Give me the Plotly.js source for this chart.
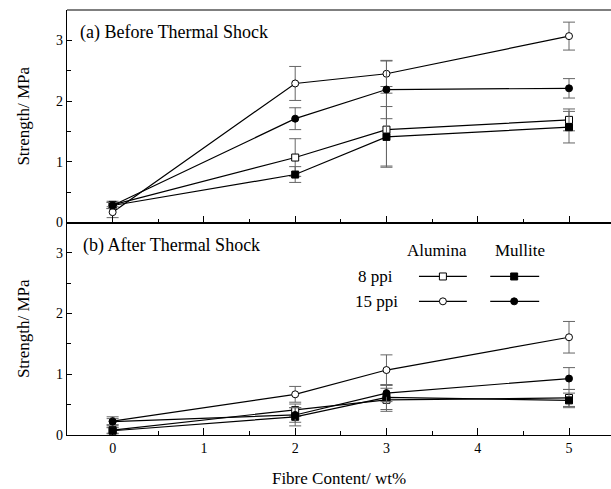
<!DOCTYPE html>
<html>
<head>
<meta charset="utf-8">
<script src="https://cdn.plot.ly/plotly-3.0.1.min.js"></script>
<style>html,body{margin:0;padding:0;background:#fff;overflow:hidden;}</style>
</head>
<body>
<div id="chart" style="width:611px;height:489px;"></div>
<script>
// Fibre content (wt%)
const fibre = [0, 2, 3, 5];

// (a) Before thermal shock
const beforeAlumina8 = [0.29, 1.07, 1.53, 1.69];
const beforeAlumina8Err = [0.06, 0.31, 0.60, 0.18];
const beforeMullite8 = [0.28, 0.79, 1.41, 1.57];
const beforeMullite8Err = [0.05, 0.13, 0.50, 0.26];
const beforeAlumina15 = [0.17, 2.29, 2.45, 3.07];
const beforeAlumina15Err = [0.09, 0.28, 0.21, 0.23];
const beforeMullite15 = [0.28, 1.71, 2.19, 2.21];
const beforeMullite15Err = [0.05, 0.18, 0.48, 0.16];

// (b) After thermal shock
const afterAlumina8 = [0.08, 0.41, 0.58, 0.61];
const afterAlumina8Err = [0.05, 0.10, 0.19, 0.14];
const afterMullite8 = [0.07, 0.30, 0.62, 0.57];
const afterMullite8Err = [0.05, 0.15, 0.20, 0.12];
const afterAlumina15 = [0.23, 0.67, 1.07, 1.61];
const afterAlumina15Err = [0.07, 0.13, 0.25, 0.26];
const afterMullite15 = [0.22, 0.33, 0.69, 0.93];
const afterMullite15Err = [0.05, 0.12, 0.14, 0.18];

const xTicks = [0, 1, 2, 3, 4, 5];
const yTicks = [0, 1, 2, 3];

// legend key text
const legendCols = ['Alumina', 'Mullite'];
const legendRows = ['8 ppi', '15 ppi'];

const FONT = 'Liberation Serif';
function txt(size) { return {family: FONT, size: size, color: '#000'}; }

function series(y, err, symbol, filled, xaxis, yaxis) {
  return {
    type: 'scatter', mode: 'lines+markers',
    x: fibre, y: y, xaxis: xaxis, yaxis: yaxis,
    line: {color: '#000', width: 1.2},
    marker: {symbol: symbol, size: 7, color: filled ? '#000' : '#fff',
             line: {color: '#000', width: 1}},
    error_y: {type: 'data', array: err, visible: true, color: '#666',
              thickness: 1, width: 6},
    showlegend: false, hoverinfo: 'skip', cliponaxis: false
  };
}

const traces = [
  series(beforeAlumina8, beforeAlumina8Err, 'square', false, 'x2', 'y'),
  series(beforeMullite8, beforeMullite8Err, 'square', true, 'x2', 'y'),
  series(beforeAlumina15, beforeAlumina15Err, 'circle', false, 'x2', 'y'),
  series(beforeMullite15, beforeMullite15Err, 'circle', true, 'x2', 'y'),
  series(afterAlumina8, afterAlumina8Err, 'square', false, 'x', 'y2'),
  series(afterMullite8, afterMullite8Err, 'square', true, 'x', 'y2'),
  series(afterAlumina15, afterAlumina15Err, 'circle', false, 'x', 'y2'),
  series(afterMullite15, afterMullite15Err, 'circle', true, 'x', 'y2')
];

// Custom legend key drawn on a 0..1 helper axis pair covering panel (b)
const keyX = [[0.647, 0.691, 0.735], [0.778, 0.822, 0.868]];
const keyY = [0.746, 0.629];
const keyHeadY = 0.869;
const keyColX = [0.681, 0.833];
const keyRowX = [0.603, 0.612];
const keySym = ['square', 'circle'];
for (let r = 0; r < 2; r++) {
  for (let c = 0; c < 2; c++) {
    const xs = keyX[c], yv = keyY[r];
    traces.push({
      type: 'scatter', mode: 'lines', x: [xs[0], xs[2]], y: [yv, yv],
      xaxis: 'x3', yaxis: 'y3', line: {color: '#000', width: 1.2},
      showlegend: false, hoverinfo: 'skip'
    });
    traces.push({
      type: 'scatter', mode: 'markers', x: [xs[1]], y: [yv],
      xaxis: 'x3', yaxis: 'y3',
      marker: {symbol: keySym[r], size: 7, color: c === 1 ? '#000' : '#fff',
               line: {color: '#000', width: 1}},
      showlegend: false, hoverinfo: 'skip'
    });
  }
}

const xCommon = {
  range: [-0.5, 5.46], tickvals: xTicks, ticks: 'inside', ticklen: 7,
  tickcolor: '#000', tickwidth: 1, showline: true, linecolor: '#000', linewidth: 1.2,
  showgrid: false, zeroline: false,
  minor: {dtick: 0.5, tick0: 0, ticks: 'inside', ticklen: 4, tickcolor: '#000', tickwidth: 1},
  tickfont: txt(14)
};
function yAxis(domain, anchor) {
  return {
    domain: domain, anchor: anchor,
    range: [0, 3.5], tickvals: yTicks, ticks: 'inside', ticklen: 5,
    tickcolor: '#000', tickwidth: 1, showline: true, linecolor: '#000', linewidth: 1.2,
    showgrid: false, zeroline: false,
    minor: {dtick: 0.5, tick0: 0, ticks: 'inside', ticklen: 4, tickcolor: '#000', tickwidth: 1},
    tickfont: txt(14),
    title: {text: 'Strength/ MPa', font: txt(17), standoff: 22}
  };
}

const annotations = [
  {text: '(a) Before Thermal Shock', xref: 'paper', yref: 'paper', x: 0.02, y: 0.948,
   xanchor: 'left', yanchor: 'middle', showarrow: false, font: txt(18)},
  {text: '(b) After Thermal Shock', xref: 'paper', yref: 'paper', x: 0.025, y: 0.447,
   xanchor: 'left', yanchor: 'middle', showarrow: false, font: txt(18)}
];
legendCols.forEach((t, i) => annotations.push({
  text: t, xref: 'x3', yref: 'y3', x: keyColX[i], y: keyHeadY,
  xanchor: 'center', yanchor: 'middle', showarrow: false, font: txt(17)}));
legendRows.forEach((t, i) => annotations.push({
  text: t, xref: 'x3', yref: 'y3', x: keyRowX[i], y: keyY[i],
  xanchor: 'right', yanchor: 'middle', showarrow: false, font: txt(17)}));

const layout = {
  width: 611, height: 489,
  margin: {l: 67, r: 0, t: 10, b: 54},
  paper_bgcolor: '#fff', plot_bgcolor: 'rgba(0,0,0,0)',
  showlegend: false,
  xaxis: Object.assign({}, xCommon, {anchor: 'y2',
    title: {text: 'Fibre Content/ wt%', font: txt(17), standoff: 17}}),
  xaxis2: Object.assign({}, xCommon, {anchor: 'y', showticklabels: false, matches: 'x'}),
  yaxis: yAxis([0.5, 1], 'x2'),
  yaxis2: yAxis([0, 0.5], 'x'),
  xaxis3: {domain: [0, 1], range: [0, 1], visible: false, anchor: 'y3', fixedrange: true},
  yaxis3: {domain: [0, 0.5], range: [0, 1], visible: false, anchor: 'x3', fixedrange: true},
  shapes: [
    {type: 'line', xref: 'paper', yref: 'paper', x0: 0, x1: 1, y0: 1, y1: 1,
     line: {color: '#000', width: 1.2}},
    {type: 'line', xref: 'paper', yref: 'paper', x0: 0, x1: 1, y0: 0.5, y1: 0.5,
     line: {color: '#000', width: 1.2}}
  ],
  annotations: annotations
};

Plotly.newPlot('chart', traces, layout, {staticPlot: true, displayModeBar: false});
</script>
</body>
</html>
